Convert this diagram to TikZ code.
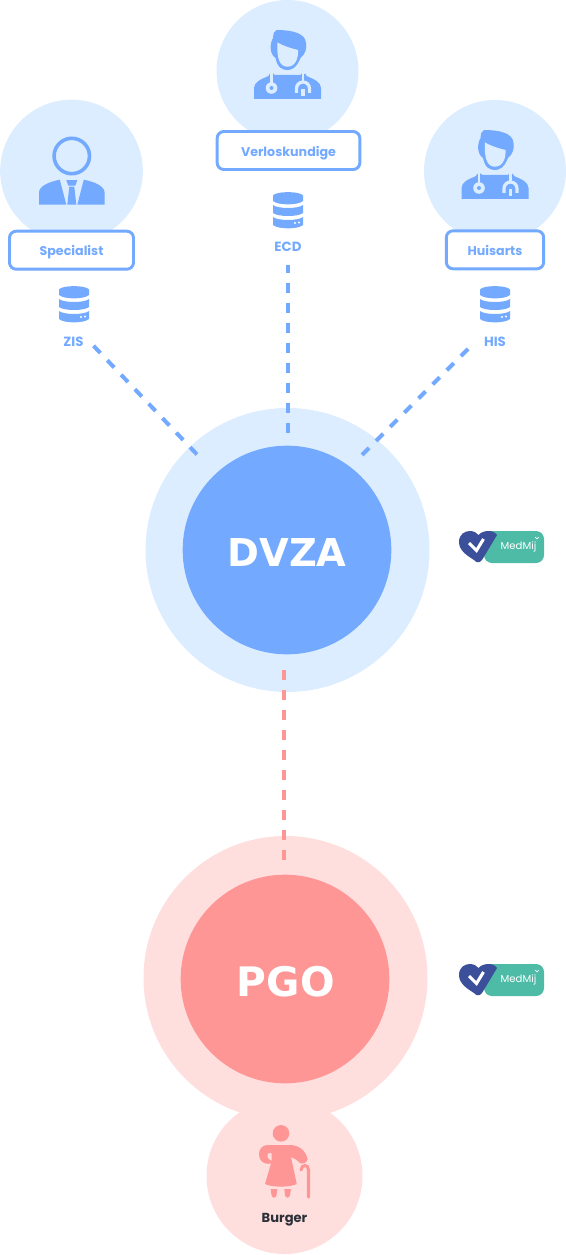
\documentclass[tikz,border=0pt]{standalone}
\usepackage{fontspec}
\setmainfont{Poppins}
\newfontfamily\dejavu{DejaVu Sans}
\definecolor{lblue}{HTML}{DCEDFF}
\definecolor{mblue}{HTML}{73A9FF}
\definecolor{lpink}{HTML}{FFDEDE}
\definecolor{mpink}{HTML}{FF9696}
\definecolor{teal}{HTML}{4DBBA6}
\definecolor{navy}{HTML}{3B4F9A}
\definecolor{inkdark}{HTML}{2B2F38}
\tikzset{
  disc/.style={circle,inner sep=0pt,outer sep=0pt,draw=none},
  rolebox/.style={draw=mblue,line width=2.2pt,fill=white,rounded corners=5pt,inner sep=0pt,minimum height=28.5pt,
    text=mblue,font=\bfseries\fontsize{9.5}{10}\selectfont,text height=9pt,text depth=0.6pt},
  dblabel/.style={text=mblue,font=\bfseries\fontsize{10}{10}\selectfont,inner sep=0pt},
  bigtext/.style={text=white,font=\dejavu\bfseries\fontsize{28.8}{30}\selectfont,inner sep=0pt},
  bluedash/.style={draw=mblue,line width=3pt,dash pattern=on 7.5pt off 7.5pt},
  pinkdash/.style={draw=mpink,line width=3pt,dash pattern=on 7.5pt off 7.5pt},
  doctor/.pic={
    \fill[mblue] (-11,0) .. controls (4,0) and (18,3) .. (18.5,13) .. controls (19.5,18) and (18,24) .. (13,28)
      .. controls (9,38) and (4,40) .. (0,40) .. controls (-5,40) and (-10,38) .. (-12,28)
      .. controls (-18,24) and (-18,14) .. (-14.5,8) .. controls (-14,4) and (-14,1) .. (-11,0) -- cycle;
    \fill[lblue] (-10,12.5) .. controls (-4,16) and (4,18.5) .. (10.5,20) .. controls (11,28) and (8,36.7) .. (0,36.7)
      .. controls (-8,36.7) and (-11,28) .. (-10,12.5) -- cycle;
    \fill[mblue] (-33.5,69) -- (-33.5,58) .. controls (-33.5,52) and (-26,49) .. (-19,46) -- (-18,44) -- (-14,43.5) -- (-13,45) -- (13,45) -- (14,43.5) -- (18,44) -- (19,46) .. controls (26,49) and (33.5,52) .. (33.5,58) -- (33.5,69) -- cycle;
    \draw[lblue,line width=2.2pt] (-16,43) -- (-16,54);
    \fill[lblue] (-16,58) circle [radius=5.8];
    \fill[mblue] (-16,58) circle [radius=2];
    \draw[lblue,line width=2.2pt] (15.5,43) -- (15.5,51);
    \draw[lblue,line width=2.4pt] (9,63) -- (9,58.5) arc (180:360:6.5) -- (22,63);
    \fill[lblue] (13.8,59.5) rectangle (17.2,66);
  },
  suit/.pic={
    \draw[mblue,line width=2.7pt] (0,-23.7) circle [radius=17.7];
    \fill[mblue] (-32.8,25) -- (-32.8,13) .. controls (-32.8,6) and (-22,2) .. (-12,0) -- (-5.5,25) -- cycle;
    \fill[mblue] (32.8,25) -- (32.8,13) .. controls (32.8,6) and (22,2) .. (12,0) -- (5.5,25) -- cycle;
    \fill[mblue] (-5.5,0.5) -- (5.5,0.5) -- (3.5,6) -- (-3.5,6) -- cycle;
    \fill[mblue] (-2.5,7) -- (2.5,7) -- (4.5,25) -- (-4.5,25) -- cycle;
  },
  database/.pic={
    \fill[mblue] (-15,3.5) .. controls (-12,-1) and (12,-1) .. (15,3.5) -- (15,9) .. controls (10,13.5) and (-10,13.5) .. (-15,9) -- cycle;
    \fill[mblue] (-15,13) .. controls (-10,17) and (10,17) .. (15,13) -- (15,21) .. controls (10,25) and (-10,25) .. (-15,21) -- cycle;
    \fill[mblue] (-15,25) .. controls (-10,29) and (10,29) .. (15,25) -- (15,33) .. controls (10,37.5) and (-10,37.5) .. (-15,33) -- cycle;
    \fill[white] (7,31) circle [radius=1.2];
    \fill[white] (11,30.5) circle [radius=1.2];
  },
  medmij/.pic={
    \fill[teal,rounded corners=6pt] (25,0) rectangle (85,32);
    \fill[navy] (15,29) .. controls (7,24) and (0,19) .. (0,11) .. controls (0,3) and (6,0) .. (11,0)
      .. controls (15,0) and (18,2) .. (19.5,4) .. controls (21,2) and (25,0) .. (29,0) .. controls (33,0) and (36,1) .. (38,4)
      -- (23,29) .. controls (21,32) and (17,32) .. (15,29) -- cycle;
    \draw[white,line width=2.3pt] (10,12) -- (17.5,19.5) -- (24.5,8);
    \node[text=white,font=\fontsize{7.6}{9}\selectfont,inner sep=0pt] (#1) at (59.5,16) {MedMij};
    \draw[white,line width=.5pt] (76,6) .. controls (77,8.5) and (79,8.5) .. (80,6);
  },
  medmij/.default=mm
}
\begin{document}
\begin{tikzpicture}[x=0.75pt,y=-0.75pt]
\useasboundingbox (0,0) rectangle (566,1255);
% background discs
\node[disc,fill=lblue,minimum size=107pt] (specc) at (71.5,171) {};
\node[disc,fill=lblue,minimum size=106.5pt] (verlc) at (287.5,71) {};
\node[disc,fill=lblue,minimum size=106.5pt] (huisc) at (495,171) {};
\node[disc,fill=lblue,minimum size=213pt] (dvzaouter) at (287.5,550) {};
\node[disc,fill=mblue,minimum size=156.5pt] (dvzainner) at (287,550) {};
\node[disc,fill=lpink,minimum size=213pt] (pgoouter) at (285.5,978) {};
\node[disc,fill=lpink,minimum size=117pt] (burgerc) at (284.5,1176) {};
\node[disc,fill=mpink,minimum size=156.5pt] (pgoinner) at (285,979) {};
% role boxes
\node[rolebox,minimum width=93pt] (spec) at (71.5,250.2) {Specialist};
\node[rolebox,minimum width=107pt] (verl) at (288.5,150.5) {Verloskundige};
\node[rolebox,minimum width=73pt] (huis) at (495,249.8) {Huisarts};
% icons
\pic at (71.8,179.7) {suit};
\pic at (287.5,30) {doctor};
\pic at (495,130) {doctor};
\pic at (74,286) {database};
\pic at (288,192) {database};
\pic at (495,286) {database};
% database labels
\node[dblabel] (zis) at (73.5,341.5) {ZIS};
\node[dblabel] (ecd) at (288,246.8) {ECD};
\node[dblabel] (his) at (495,341.5) {HIS};
% big labels
\node[bigtext] (dvza) at (287,552) {DVZA};
\node[bigtext,font=\dejavu\bfseries\fontsize{30.5}{32}\selectfont] (pgo) at (285.8,982) {PGO};
\node[text=inkdark,inner sep=0pt,font=\bfseries\fontsize{9.8}{10}\selectfont] (burger) at (284.5,1219.5) {Burger};
% connectors
\coordinate (zisend) at (93.5,345.8);
\coordinate (zisdvza) at (198,455.5);
\coordinate (ecdend) at (288,265);
\coordinate (ecddvza) at (288,433);
\coordinate (hisend) at (468,349);
\coordinate (hisdvza) at (362,455);
\coordinate (pgotop) at (284,670);
\coordinate (pgobot) at (284,860);
\draw[bluedash] (zisend) -- (zisdvza);
\draw[bluedash,dash phase=1.7pt] (ecdend) -- (ecddvza);
\draw[bluedash] (hisend) -- (hisdvza);
\draw[pinkdash] (pgotop) -- (pgobot);
% badges
\pic at (459,531) {medmij=mma};
\pic at (459,964) {medmij=mmb};
% grandmother
\fill[mpink] (281,1133.3) circle [radius=8.3];
\fill[mpink,even odd rule] (268,1145) -- (290,1145) .. controls (299,1145) and (306,1151) .. (307.5,1159)
  .. controls (308,1162) and (302,1165) .. (300,1163) .. controls (297,1160) and (294,1158) .. (291,1157)
  -- (296.8,1184) .. controls (290,1187.5) and (272,1187.5) .. (265,1184) -- (271,1163.5)
  .. controls (263,1165) and (259,1160) .. (259,1154.5) .. controls (259,1149) and (262,1145) .. (268,1145) -- cycle
  (268.5,1153) .. controls (266.5,1155) and (267,1159) .. (271.7,1161) -- (271.7,1153) -- cycle;
\fill[mpink] (270.7,1189) -- (277.3,1189) -- (276.5,1195) .. controls (276,1198.5) and (272,1198.5) .. (271.5,1195) -- cycle;
\fill[mpink] (284.3,1189) -- (291,1189) -- (290,1195) .. controls (289.5,1198.5) and (285.5,1198.5) .. (285,1195) -- cycle;
\draw[mpink,line width=2.3pt,line cap=round] (308.5,1197) -- (308.5,1170) .. controls (308.5,1164) and (301.5,1164) .. (301,1170);
\end{tikzpicture}
\end{document}
